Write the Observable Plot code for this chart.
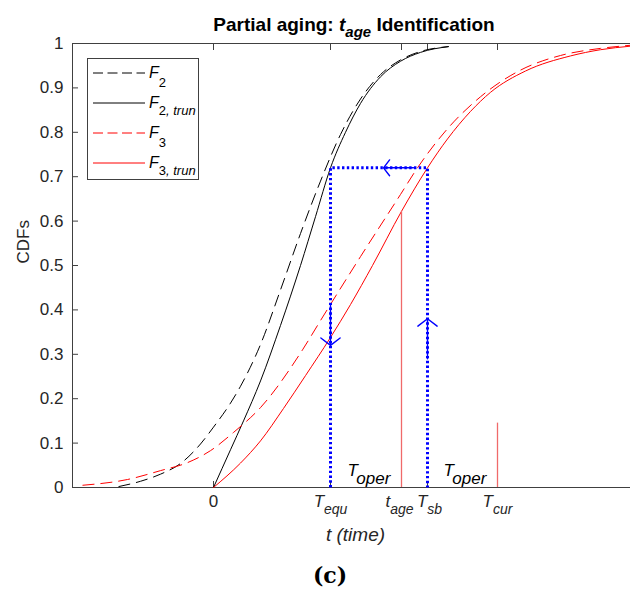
<!DOCTYPE html>
<html><head><meta charset="utf-8">
<script src="https://cdn.jsdelivr.net/npm/d3@7"></script>
<script src="https://cdn.jsdelivr.net/npm/@observablehq/plot@0.6"></script>
<style>
body{margin:0;background:#fff;}
#wrap{position:relative;width:630px;height:597px;overflow:hidden;font-family:"Liberation Sans",Arial,Helvetica,sans-serif;}
#chart{position:absolute;top:0;left:0;}
#title{position:absolute;top:14px;left:154px;width:400px;text-align:center;font-weight:bold;font-size:19px;line-height:22px;color:#000;}
#title sub{font-size:15px;font-style:italic;vertical-align:-6px;line-height:0;}
#caption{position:absolute;top:562px;left:280px;width:100px;text-align:center;font-family:"DejaVu Serif","Liberation Serif",serif;font-weight:bold;font-size:22px;line-height:26px;}
</style></head>
<body>
<div id="wrap"><div id="chart"></div>
<div id="title">Partial aging: <i>t</i><sub>age</sub> Identification</div>
<div id="caption">(c)</div></div>
<script>
// ---- data (time in arbitrary units, CDF values) ----
const xTicks = [0, 11.7, 18.8, 21.4, 28.4];
const xTickLabels = ["0", "T_equ", "t_age", "T_sb", "T_cur"];
const yTicks = [0, 0.1, 0.2, 0.3, 0.4, 0.5, 0.6, 0.7, 0.8, 0.9, 1];

const f2T = [-9.5, -7.3, -5.3, -3.3, -1.3, 0, 1.7, 2.7, 4.7, 6.7, 8.7, 10.7, 12.7, 14.7, 16.7, 18.7, 20.7, 23.5];
const f2V = [0.002, 0.014, 0.03, 0.054, 0.098, 0.136, 0.19, 0.228, 0.322, 0.445, 0.572, 0.69, 0.795, 0.875, 0.93, 0.963, 0.982, 0.993];

const f2tT = [0, 1.7, 3.0, 4.7, 6.7, 8.7, 10.2, 11.7, 13.2, 14.7, 16.7, 18.7, 20.7, 23.5];
const f2tV = [0, 0.085, 0.15, 0.24, 0.365, 0.5, 0.61, 0.72, 0.8, 0.865, 0.925, 0.96, 0.98, 0.993];

const f3T = [-13.1, -8.6, -5.3, -2.6, -0.3, 2.0, 4.7, 8.9, 10.7, 14.7, 18.7, 20.4, 23.4, 26.7, 30.7, 34.7, 38.7, 41.7];
const f3V = [0.005, 0.018, 0.038, 0.056, 0.083, 0.124, 0.18, 0.31, 0.376, 0.52, 0.66, 0.72, 0.808, 0.88, 0.94, 0.973, 0.989, 0.996];

const f3tT = [0, 2.7, 4.7, 7.0, 9.2, 11.7, 13.7, 15.9, 18.8, 21.4, 23.4, 25.7, 27.7, 31.2, 35.7, 38.7, 41.7];
const f3tV = [0, 0.055, 0.105, 0.178, 0.252, 0.338, 0.412, 0.5, 0.622, 0.72, 0.785, 0.847, 0.89, 0.938, 0.972, 0.986, 0.994];

// blue identification path: T_equ -> up to 0.72 -> across to T_sb -> down
const pathX = [11.7, 11.7, 21.4, 21.4];
const pathY = [0, 0.72, 0.72, 0];
// arrows on the path
const arrX1 = [11.7, 21.4, 20.0];
const arrY1 = [0.41, 0.29, 0.72];
const arrX2 = [11.7, 21.4, 17.0];
const arrY2 = [0.32, 0.38, 0.72];
// red marker lines at t_age and T_cur
const markX = [18.8, 28.4];
const markY = [0.622, 0.145];
// T_oper annotations
const operX = [13.4, 23.0];
const operY = [0.027, 0.027];
const operLabels = ["T_oper", "T_oper"];

const legendLabels = ["F_2", "F_2, trun", "F_3", "F_3, trun"];
const legendColors = ["#000000", "#000000", "#ff0000", "#ff0000"];
const legendDash = ["10,4.5", null, "10,4.5", null];

const series = (T, V) => T.map((t, i) => ({t, v: V[i]}));
const xMin = -14.1, xMax = 41.7;
const font = '"Liberation Sans", Arial, Helvetica, sans-serif';

const plot = Plot.plot({
  width: 630, height: 560,
  marginTop: 43, marginLeft: 72, marginRight: 0, marginBottom: 73,
  x: {domain: [xMin, xMax]},
  y: {domain: [0, 1]},
  style: {fontFamily: font, background: "transparent", color: "#262626", overflow: "visible"},
  marks: [
    // frame
    Plot.ruleY([0, 1], {stroke: "#404040"}),
    Plot.ruleX([xMin], {stroke: "#404040"}),
    // inward ticks
    Plot.axisY(yTicks, {anchor: "left", tickSize: 6, dx: 6, fill: "none", stroke: "#404040", label: null}),
    Plot.axisX(xTicks, {anchor: "bottom", tickSize: 6, dy: -6, fill: "none", stroke: "#404040", label: null}),
    Plot.axisX(xTicks, {anchor: "top", tickSize: 6, dy: 6, fill: "none", stroke: "#404040", label: null}),
    // y tick labels
    Plot.axisY(yTicks, {anchor: "left", tickSize: 0, tickPadding: 9, tickFormat: d => String(d), fontSize: 17, fill: "#262626", label: null}),
    // curves
    Plot.line(series(f2T, f2V), {x: "t", y: "v", stroke: "#000", strokeWidth: 1, strokeDasharray: "12,6", strokeLinecap: "butt", curve: "monotone-x"}),
    Plot.line(series(f2tT, f2tV), {x: "t", y: "v", stroke: "#000", strokeWidth: 1, curve: "monotone-x"}),
    Plot.line(series(f3T, f3V), {x: "t", y: "v", stroke: "#ff0000", strokeWidth: 1, strokeDasharray: "12,6", strokeLinecap: "butt", curve: "monotone-x"}),
    Plot.line(series(f3tT, f3tV), {x: "t", y: "v", stroke: "#ff0000", strokeWidth: 1, curve: "monotone-x"}),
    // red markers
    Plot.ruleX(markX, {x: d => d, y1: 0, y2: (d, i) => markY[i], stroke: "#f06a6a", strokeWidth: 1.3}),
    // blue dotted path
    Plot.line(series(pathX, pathY), {x: "t", y: "v", stroke: "#0000ff", strokeWidth: 3, strokeDasharray: "2.4,2.4",
      strokeLinecap: "butt", strokeLinejoin: "miter"}),
    Plot.arrow(arrX1, {x1: d => d, y1: (d, i) => arrY1[i], x2: (d, i) => arrX2[i], y2: (d, i) => arrY2[i],
      stroke: "#0000ff", strokeWidth: 1.4, headLength: 13, headAngle: 105}),
    // T_oper labels
    Plot.text(operX, {x: d => d, y: (d, i) => operY[i], text: (d, i) => operLabels[i], textAnchor: "start",
      lineAnchor: "bottom", fontSize: 17, fontStyle: "italic", fill: "#000"}),
    // x tick labels
    Plot.text(xTicks, {x: d => d, text: (d, i) => xTickLabels[i], frameAnchor: "bottom", dy: 19, fontSize: 17,
      fontStyle: "italic", fill: "#262626"}),
    // axis labels
    Plot.text(["t (time)"], {frameAnchor: "bottom", dx: 4, dy: 53, fontSize: 19, fontStyle: "italic", fill: "#262626"}),
    Plot.text(["CDFs"], {frameAnchor: "left", dx: -49, dy: -2, rotate: -90, fontSize: 17, fill: "#262626"})
  ]
});

// subscripts: "A_b" -> A with lowered b
const nudge = {"t_age": -2, "T_sb": 2};
const svg = d3.select(plot);
svg.selectAll("text").each(function () {
  const s = this.textContent;
  if (s === "0") { d3.select(this).attr("font-style", "normal"); return; }
  if (!s.includes("_")) return;
  const [main, sub] = s.split("_");
  const big = s.startsWith("T_oper");
  const el = d3.select(this).text(null);
  el.append("tspan").attr("dx", nudge[s] || 0).text(main);
  el.append("tspan").attr("dy", big ? 8 : 7).attr("font-size", big ? 17 : 14).text(sub);
});

// legend
const lg = svg.append("g").attr("font-family", font).attr("text-anchor", "start");
lg.append("rect").attr("x", 87.5).attr("y", 58.5).attr("width", 111).attr("height", 121)
  .attr("fill", "white").attr("stroke", "#404040").attr("stroke-width", 1);
legendLabels.forEach((lab, i) => {
  const y = 73 + 30 * i;
  lg.append("line").attr("x1", 93).attr("x2", 145).attr("y1", y).attr("y2", y)
    .attr("stroke", legendColors[i]).attr("stroke-width", 1)
    .attr("stroke-dasharray", legendDash[i]);
  const [main, sub] = lab.split("_");
  const t = lg.append("text").attr("x", 149).attr("y", y + 5).attr("font-size", 16)
    .attr("fill", "#000").attr("text-anchor", "start");
  t.append("tspan").attr("font-style", "italic").text(main);
  const parts = sub.split(",");
  const shift = parts.length > 1 ? 7 : 9;
  t.append("tspan").attr("dy", shift).attr("font-size", 13).text(parts[0]);
  if (parts.length > 1) t.append("tspan").attr("font-size", 13).attr("font-style", "italic").text("," + parts[1]);
});

document.getElementById("chart").appendChild(plot);
</script>
</body></html>
